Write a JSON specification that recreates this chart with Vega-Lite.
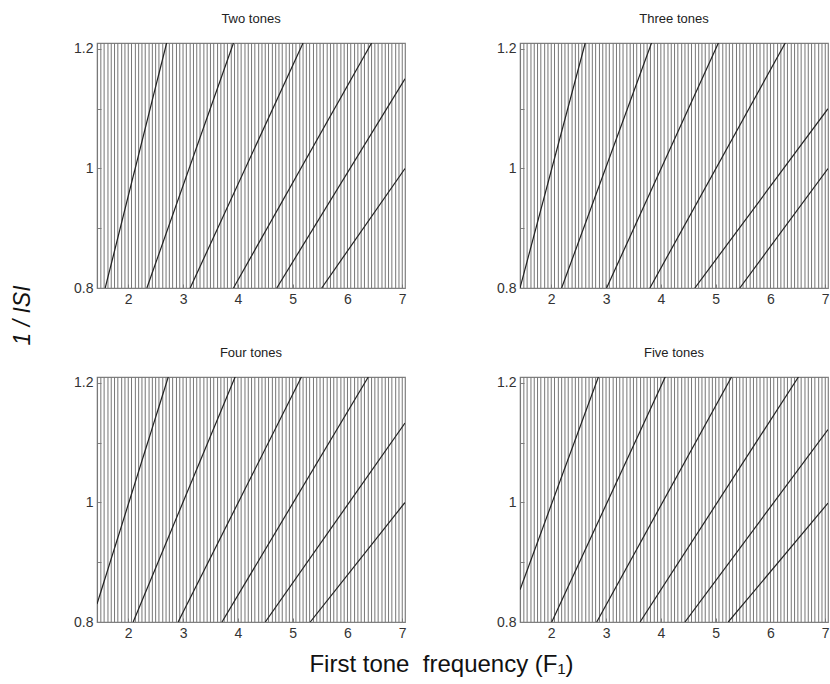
{
  "$schema": "https://vega.github.io/schema/vega-lite/v6.json",
  "padding": {"left": 10, "top": 12, "right": 0, "bottom": 0},
  "background": "white",
  "datasets": {
    "verts": [
      {"f":1.44},{"f":1.5},{"f":1.56},{"f":1.63},{"f":1.69},{"f":1.75},{"f":1.81},{"f":1.88},{"f":1.94},{"f":2.0},
      {"f":2.06},{"f":2.13},{"f":2.19},{"f":2.25},{"f":2.31},{"f":2.38},{"f":2.44},{"f":2.5},{"f":2.56},{"f":2.63},
      {"f":2.69},{"f":2.75},{"f":2.81},{"f":2.88},{"f":2.94},{"f":3.0},{"f":3.06},{"f":3.13},{"f":3.19},{"f":3.25},
      {"f":3.31},{"f":3.38},{"f":3.44},{"f":3.5},{"f":3.56},{"f":3.63},{"f":3.69},{"f":3.75},{"f":3.81},{"f":3.88},
      {"f":3.94},{"f":4.0},{"f":4.06},{"f":4.13},{"f":4.19},{"f":4.25},{"f":4.31},{"f":4.38},{"f":4.44},{"f":4.5},
      {"f":4.56},{"f":4.63},{"f":4.69},{"f":4.75},{"f":4.81},{"f":4.88},{"f":4.94},{"f":5.0},{"f":5.06},{"f":5.13},
      {"f":5.19},{"f":5.25},{"f":5.31},{"f":5.38},{"f":5.44},{"f":5.5},{"f":5.56},{"f":5.63},{"f":5.69},{"f":5.75},
      {"f":5.81},{"f":5.88},{"f":5.94},{"f":6.0},{"f":6.06},{"f":6.13},{"f":6.19},{"f":6.25},{"f":6.31},{"f":6.38},
      {"f":6.44},{"f":6.5},{"f":6.56},{"f":6.63},{"f":6.69},{"f":6.75},{"f":6.81},{"f":6.88},{"f":6.94},{"f":7.0}
    ],
    "diag": [
      {"p":"Two tones","id":1,"x":1.58,"y":0.8},{"p":"Two tones","id":1,"x":2.70,"y":1.21},
      {"p":"Two tones","id":2,"x":2.34,"y":0.8},{"p":"Two tones","id":2,"x":3.92,"y":1.21},
      {"p":"Two tones","id":3,"x":3.13,"y":0.8},{"p":"Two tones","id":3,"x":5.19,"y":1.21},
      {"p":"Two tones","id":4,"x":3.92,"y":0.8},{"p":"Two tones","id":4,"x":6.44,"y":1.21},
      {"p":"Two tones","id":5,"x":4.71,"y":0.8},{"p":"Two tones","id":5,"x":7.05,"y":1.15},
      {"p":"Two tones","id":6,"x":5.53,"y":0.8},{"p":"Two tones","id":6,"x":7.05,"y":1.0},
      {"p":"Three tones","id":1,"x":1.43,"y":0.8},{"p":"Three tones","id":1,"x":2.62,"y":1.21},
      {"p":"Three tones","id":2,"x":2.19,"y":0.8},{"p":"Three tones","id":2,"x":3.83,"y":1.21},
      {"p":"Three tones","id":3,"x":3.01,"y":0.8},{"p":"Three tones","id":3,"x":5.05,"y":1.21},
      {"p":"Three tones","id":4,"x":3.80,"y":0.8},{"p":"Three tones","id":4,"x":6.27,"y":1.21},
      {"p":"Three tones","id":5,"x":4.62,"y":0.8},{"p":"Three tones","id":5,"x":7.05,"y":1.10},
      {"p":"Three tones","id":6,"x":5.44,"y":0.8},{"p":"Three tones","id":6,"x":7.05,"y":1.0},
      {"p":"Four tones","id":1,"x":1.43,"y":0.83},{"p":"Four tones","id":1,"x":2.73,"y":1.21},
      {"p":"Four tones","id":2,"x":2.09,"y":0.8},{"p":"Four tones","id":2,"x":3.95,"y":1.21},
      {"p":"Four tones","id":3,"x":2.91,"y":0.8},{"p":"Four tones","id":3,"x":5.16,"y":1.21},
      {"p":"Four tones","id":4,"x":3.71,"y":0.8},{"p":"Four tones","id":4,"x":6.38,"y":1.21},
      {"p":"Four tones","id":5,"x":4.50,"y":0.8},{"p":"Four tones","id":5,"x":7.05,"y":1.133},
      {"p":"Four tones","id":6,"x":5.32,"y":0.8},{"p":"Four tones","id":6,"x":7.05,"y":1.0},
      {"p":"Five tones","id":1,"x":1.43,"y":0.854},{"p":"Five tones","id":1,"x":2.86,"y":1.21},
      {"p":"Five tones","id":2,"x":2.01,"y":0.8},{"p":"Five tones","id":2,"x":4.08,"y":1.21},
      {"p":"Five tones","id":3,"x":2.83,"y":0.8},{"p":"Five tones","id":3,"x":5.29,"y":1.21},
      {"p":"Five tones","id":4,"x":3.62,"y":0.8},{"p":"Five tones","id":4,"x":6.51,"y":1.21},
      {"p":"Five tones","id":5,"x":4.44,"y":0.8},{"p":"Five tones","id":5,"x":7.05,"y":1.122},
      {"p":"Five tones","id":6,"x":5.23,"y":0.8},{"p":"Five tones","id":6,"x":7.05,"y":0.999}
    ]
  },
  "columns": 2,
  "spacing": {"row": 89, "column": 115},
  "bounds": "flush",
  "concat": [
    {
      "width": 308, "height": 245,
      "title": {"text": "Two tones", "frame": "group"},
      "layer": [
        {"data": {"name": "verts"}, "mark": {"type": "rule", "color": "#777", "strokeWidth": 1},
         "encoding": {"x": {"field": "f", "type": "quantitative", "scale": {"domain": [1.43, 7.05], "nice": false, "zero": false}, "axis": {"values": [2,3,4,5,6,7], "format": "d", "title": null}}}},
        {"data": {"name": "diag"}, "transform": [{"filter": "datum.p == 'Two tones'"}],
         "mark": {"type": "line", "color": "#222", "strokeWidth": 1.2, "clip": true},
         "encoding": {"x": {"field": "x", "type": "quantitative"},
                      "y": {"field": "y", "type": "quantitative", "scale": {"domain": [0.8, 1.21], "nice": false, "zero": false}, "axis": {"values": [0.8,0.9,1,1.1,1.2], "format": "~g", "labelExpr": "datum.value == 0.9 || datum.value == 1.1 ? '' : datum.label", "title": "1 / ISI", "titleFontSize": 23, "titleFontStyle": "italic", "titleFontWeight": "normal", "titleColor": "#111", "titleX": -63, "titleY": 272, "titleAngle": -90, "titleAlign": "center", "titleBaseline": "bottom"}},
                      "detail": {"field": "id"}}}
      ]
    },
    {
      "width": 308, "height": 245,
      "title": {"text": "Three tones", "frame": "group"},
      "layer": [
        {"data": {"name": "verts"}, "mark": {"type": "rule", "color": "#777", "strokeWidth": 1},
         "encoding": {"x": {"field": "f", "type": "quantitative", "scale": {"domain": [1.43, 7.05], "nice": false, "zero": false}, "axis": {"values": [2,3,4,5,6,7], "format": "d", "title": null}}}},
        {"data": {"name": "diag"}, "transform": [{"filter": "datum.p == 'Three tones'"}],
         "mark": {"type": "line", "color": "#222", "strokeWidth": 1.2, "clip": true},
         "encoding": {"x": {"field": "x", "type": "quantitative"},
                      "y": {"field": "y", "type": "quantitative", "scale": {"domain": [0.8, 1.21], "nice": false, "zero": false}, "axis": {"values": [0.8,0.9,1,1.1,1.2], "format": "~g", "labelExpr": "datum.value == 0.9 || datum.value == 1.1 ? '' : datum.label", "title": null}},
                      "detail": {"field": "id"}}}
      ]
    },
    {
      "width": 308, "height": 245,
      "title": {"text": "Four tones", "frame": "group"},
      "layer": [
        {"data": {"name": "verts"}, "mark": {"type": "rule", "color": "#777", "strokeWidth": 1},
         "encoding": {"x": {"field": "f", "type": "quantitative", "scale": {"domain": [1.43, 7.05], "nice": false, "zero": false}, "axis": {"values": [2,3,4,5,6,7], "format": "d", "title": "First tone \u00a0frequency (F₁)", "titleFontSize": 24, "titleFontWeight": "normal", "titleColor": "#111", "titleX": 344, "titleY": 30, "titleAlign": "center", "titleBaseline": "top"}}}},
        {"data": {"name": "diag"}, "transform": [{"filter": "datum.p == 'Four tones'"}],
         "mark": {"type": "line", "color": "#222", "strokeWidth": 1.2, "clip": true},
         "encoding": {"x": {"field": "x", "type": "quantitative"},
                      "y": {"field": "y", "type": "quantitative", "scale": {"domain": [0.8, 1.21], "nice": false, "zero": false}, "axis": {"values": [0.8,0.9,1,1.1,1.2], "format": "~g", "labelExpr": "datum.value == 0.9 || datum.value == 1.1 ? '' : datum.label", "title": null}},
                      "detail": {"field": "id"}}}
      ]
    },
    {
      "width": 308, "height": 245,
      "title": {"text": "Five tones", "frame": "group"},
      "layer": [
        {"data": {"name": "verts"}, "mark": {"type": "rule", "color": "#777", "strokeWidth": 1},
         "encoding": {"x": {"field": "f", "type": "quantitative", "scale": {"domain": [1.43, 7.05], "nice": false, "zero": false}, "axis": {"values": [2,3,4,5,6,7], "format": "d", "title": null}}}},
        {"data": {"name": "diag"}, "transform": [{"filter": "datum.p == 'Five tones'"}],
         "mark": {"type": "line", "color": "#222", "strokeWidth": 1.2, "clip": true},
         "encoding": {"x": {"field": "x", "type": "quantitative"},
                      "y": {"field": "y", "type": "quantitative", "scale": {"domain": [0.8, 1.21], "nice": false, "zero": false}, "axis": {"values": [0.8,0.9,1,1.1,1.2], "format": "~g", "labelExpr": "datum.value == 0.9 || datum.value == 1.1 ? '' : datum.label", "title": null}},
                      "detail": {"field": "id"}}}
      ]
    }
  ],
  "config": {
    "font": "Liberation Sans",
    "view": {"stroke": "#808080", "strokeWidth": 1.2},
    "axis": {"labelFont": "Liberation Sans", "labelFontSize": 14, "labelColor": "#333", "tickColor": "#808080", "tickSize": -4, "labelPadding": 8, "domain": false, "grid": false, "titleFont": "Liberation Sans"},
    "title": {"font": "Liberation Sans", "fontSize": 13, "fontWeight": "normal", "color": "#222", "offset": 16, "anchor": "middle", "frame": "group"}
  }
}
